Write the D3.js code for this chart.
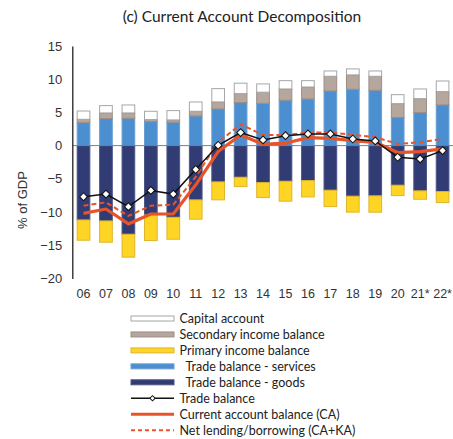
<!DOCTYPE html>
<html>
<head>
<meta charset="utf-8">
<script src="https://cdn.jsdelivr.net/npm/d3@7"></script>
<style>
  html, body { margin: 0; padding: 0; background: #fff; }
  svg { display: block; }
</style>
</head>
<body>
<svg id="chart" width="453" height="439"></svg>
<script>
const years = ["06","07","08","09","10","11","12","13","14","15","16","17","18","19","20","21*","22*"];
const goods = [-11.2,-11.35,-13.35,-10.45,-10.8,-8.18,-5.47,-4.77,-5.57,-5.37,-5.27,-6.72,-7.62,-7.57,-5.97,-6.82,-6.92];
const services = [3.46,4.07,4.12,3.62,3.52,4.47,5.53,6.48,6.38,6.83,7.03,8.24,8.49,8.34,4.22,4.97,6.13];
const primaryIncome = [-3.05,-3.2,-3.45,-3.85,-3.3,-2.9,-2.7,-1.4,-2.26,-3.0,-2.46,-2.46,-2.4,-2.46,-1.56,-1.26,-1.66];
const secondaryIncome = [0.5,0.85,0.8,0.3,0.35,0.7,1.05,1.35,1.66,1.7,1.8,2.2,2.16,2.1,2.1,2.1,2.0];
const capitalAccount = [1.25,1.1,1.2,1.25,1.4,1.4,2.0,1.57,1.25,1.25,0.95,0.8,0.9,0.8,1.35,1.46,1.6];
const tradeBalance = [-7.7,-7.3,-9.2,-6.75,-7.3,-3.6,0.05,1.96,0.86,1.5,1.76,1.76,1.0,0.7,-1.75,-2.0,-0.75];
const currentAccount = [-10.2,-9.55,-11.8,-10.3,-10.3,-5.9,-0.9,1.6,0.2,0.36,1.2,1.1,0.75,0.5,-1.05,-0.9,-0.5];
const netLending = [-9.05,-8.55,-10.6,-9.05,-8.9,-4.7,0.5,3.2,1.6,1.6,1.96,2.0,1.6,1.26,0.25,0.5,1.0];
const yTicks = [-20,-15,-10,-5,0,5,10,15];
const title = "(c) Current Account Decomposition";
const yLabel = "% of GDP";

(function () {
const svg = d3.select("#chart");
const pLeft = 72.3, pRight = 453.8, pTop = 46, pBottom = 278.4;

const x = d3.scaleBand().domain(years).range([pLeft, pRight]).paddingInner(0.39).paddingOuter(0.195);
const y = d3.scaleLinear().domain([-20, 15]).range([pBottom, pTop]);

const colors = {
  capital: {fill: "#ffffff", stroke: "#a6a6a6"},
  secondary: {fill: "#b6a79e", stroke: "#9d8d84"},
  primary: {fill: "#ffd525", stroke: "#dfb52c"},
  services: {fill: "#4b8fd1", stroke: "#6a9fd3"},
  goods: {fill: "#313b74", stroke: "#4d5585"}
};
const orange = "#e8542a";
const textFont = "Lato, 'Open Sans', sans-serif";
const numFont = "'Liberation Sans', Arial, sans-serif";

svg.append("text")
  .attr("x", 242).attr("y", 22)
  .attr("text-anchor", "middle")
  .attr("font-family", textFont)
  .attr("font-size", 15.5)
  .attr("fill", "#222")
  .text(title);

const segs = [];
years.forEach((yr, i) => {
  let p = 0;
  [["services", services[i]], ["secondary", secondaryIncome[i]], ["capital", capitalAccount[i]]].forEach(([k, v]) => {
    segs.push({yr, k, y0: p, y1: p + v}); p += v;
  });
  let n = 0;
  [["goods", goods[i]], ["primary", primaryIncome[i]]].forEach(([k, v]) => {
    segs.push({yr, k, y0: n, y1: n + v}); n += v;
  });
});
svg.append("g").selectAll("rect").data(segs).join("rect")
  .attr("x", d => x(d.yr) + 0.5)
  .attr("width", x.bandwidth() - 1)
  .attr("y", d => y(Math.max(d.y0, d.y1)))
  .attr("height", d => Math.abs(y(d.y0) - y(d.y1)))
  .attr("fill", d => colors[d.k].fill)
  .attr("stroke", d => colors[d.k].stroke)
  .attr("stroke-width", 1);

svg.append("line")
  .attr("x1", pLeft).attr("x2", pRight)
  .attr("y1", y(0)).attr("y2", y(0))
  .attr("stroke", "#7f7f7f").attr("stroke-width", 1);

const yAxis = svg.append("g")
  .attr("transform", `translate(${pLeft},0)`)
  .call(d3.axisLeft(y).tickValues(yTicks).tickSize(0).tickPadding(10).tickFormat(d3.format("d")));
yAxis.select(".domain").attr("stroke", "#222").attr("stroke-width", 1.3);
yAxis.selectAll("text").attr("font-family", numFont).attr("font-size", 13).attr("fill", "#333");

const xAxis = svg.append("g")
  .attr("transform", `translate(0,${pBottom + 8})`)
  .call(d3.axisBottom(x).tickSize(0).tickPadding(3));
xAxis.select(".domain").remove();
xAxis.selectAll("text").attr("font-family", numFont).attr("font-size", 12.5).attr("fill", "#333");

svg.append("text")
  .attr("transform", "translate(27,200) rotate(-90)")
  .attr("text-anchor", "middle")
  .attr("font-family", numFont)
  .attr("font-size", 13)
  .attr("fill", "#333")
  .text(yLabel);

const cx = d => x(d) + x.bandwidth() / 2;
const line = vals => d3.line().x((d, i) => cx(years[i])).y(d => y(d))(vals);

svg.append("path").attr("d", line(netLending))
  .attr("fill", "none").attr("stroke", orange).attr("stroke-width", 2).attr("stroke-dasharray", "5,3");
svg.append("path").attr("d", line(currentAccount))
  .attr("fill", "none").attr("stroke", orange).attr("stroke-width", 3.2).attr("stroke-linejoin", "round");
svg.append("path").attr("d", line(tradeBalance))
  .attr("fill", "none").attr("stroke", "#111").attr("stroke-width", 1.5);
svg.append("g").selectAll("path").data(tradeBalance).join("path")
  .attr("transform", (d, i) => `translate(${cx(years[i])},${y(d)}) rotate(45)`)
  .attr("d", d3.symbol(d3.symbolSquare, 30))
  .attr("fill", "#fff").attr("stroke", "#111").attr("stroke-width", 1);

const legendItems = [
  {label: "Capital account", type: "rect", k: "capital", indent: 0},
  {label: "Secondary income balance", type: "rect", k: "secondary", indent: 0},
  {label: "Primary income balance", type: "rect", k: "primary", indent: 0},
  {label: "Trade balance - services", type: "rect", k: "services", indent: 6},
  {label: "Trade balance - goods", type: "rect", k: "goods", indent: 6},
  {label: "Trade balance", type: "trade", indent: 0},
  {label: "Current account balance (CA)", type: "ca", indent: 0},
  {label: "Net lending/borrowing (CA+KA)", type: "nl", indent: 0}
];
const lg = svg.append("g");
const lx0 = 131, lx1 = 174, ly0 = 318.5, lstep = 15.95;
legendItems.forEach((it, i) => {
  const yy = ly0 + i * lstep;
  if (it.type === "rect") {
    lg.append("rect").attr("x", lx0).attr("y", yy - 2.5).attr("width", lx1 - lx0).attr("height", 5)
      .attr("fill", colors[it.k].fill).attr("stroke", colors[it.k].stroke).attr("stroke-width", 1);
  } else if (it.type === "trade") {
    lg.append("line").attr("x1", lx0).attr("x2", lx1).attr("y1", yy).attr("y2", yy).attr("stroke", "#111").attr("stroke-width", 1.5);
    lg.append("path").attr("transform", `translate(${(lx0 + lx1) / 2},${yy}) rotate(45)`)
      .attr("d", d3.symbol(d3.symbolSquare, 14)).attr("fill", "#fff").attr("stroke", "#111").attr("stroke-width", 1);
  } else if (it.type === "ca") {
    lg.append("line").attr("x1", lx0).attr("x2", lx1).attr("y1", yy).attr("y2", yy).attr("stroke", orange).attr("stroke-width", 3);
  } else {
    lg.append("line").attr("x1", lx0).attr("x2", lx1).attr("y1", yy).attr("y2", yy).attr("stroke", orange).attr("stroke-width", 2).attr("stroke-dasharray", "4,3");
  }
  lg.append("text").attr("x", 179.5 + it.indent).attr("y", yy).attr("dy", "0.35em")
    .attr("font-family", textFont).attr("font-size", 12.5).attr("fill", "#222")
    .text(it.label);
});
})();
</script>
</body>
</html>
